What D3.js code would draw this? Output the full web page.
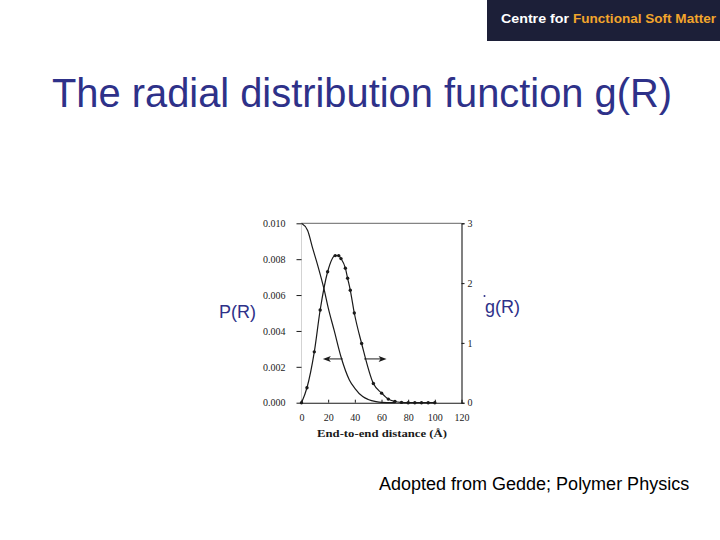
<!DOCTYPE html>
<html><head><meta charset="utf-8">
<script src="https://cdn.jsdelivr.net/npm/d3@7"></script>
<style>body{margin:0;background:#fff}svg{display:block}</style>
</head><body><svg id="c" width="720" height="540"></svg>
<script>
// ---- data ----
const titleText = "The radial distribution function g(R)";
const xTicks = [0, 20, 40, 60, 80, 100, 120];
const leftTicks = [0, 0.002, 0.004, 0.006, 0.008, 0.010];
const rightTicks = [0, 1, 2, 3];
// P(R): end-to-end distance probability (left axis)
const pR   = [0, 4.6, 8.4, 12, 17, 20, 24.6, 29.6, 35.9, 40, 45.9, 50, 55.9, 60, 70];
const pVal = [0.0100, 0.0096, 0.0086, 0.0077, 0.0063, 0.0053, 0.0040, 0.00256, 0.00127, 0.0008, 0.00034, 0.00018, 0.00006, 0.00002, 0];
// g(R): radial distribution (right axis), with data points
const gR   = [0, 4.1, 9.6, 14, 19.6, 25.3, 27.9, 29.6, 32.9, 34.6, 36.6, 39.6, 45.1, 53.9, 60.1, 65.1, 70.1, 75, 80, 85, 90, 95, 100];
const gVal = [0, 0.25, 0.85, 1.55, 2.19, 2.46, 2.46, 2.41, 2.25, 2.08, 1.88, 1.50, 0.99, 0.32, 0.16, 0.06, 0.02, 0.005, 0, 0, 0, 0, 0];
// arrows (data coordinates: R range, left-axis value)
const arrows = [
  {from: 30.9, to: 16.0, v: 0.00244},
  {from: 47.0, to: 63.8, v: 0.00244}
];

const svg = d3.select("#c");
svg.append("rect").attr("width",720).attr("height",540).attr("fill","#fff");

// logo
svg.append("rect").attr("x",487).attr("y",0).attr("width",233).attr("height",41).attr("fill","#1c1f38");
svg.append("text").attr("x",501).attr("y",22.5).attr("font-family","Liberation Sans, Arial, sans-serif")
  .attr("font-weight","bold").attr("font-size",13.5).attr("fill","#ffffff")
  .attr("textLength",68).attr("lengthAdjust","spacingAndGlyphs").text("Centre for");
svg.append("text").attr("x",573).attr("y",22.5).attr("font-family","Liberation Sans, Arial, sans-serif")
  .attr("font-weight","bold").attr("font-size",13.5).attr("fill","#f2a52c")
  .attr("textLength",143).attr("lengthAdjust","spacingAndGlyphs").text("Functional Soft Matter");

// title
svg.append("text").attr("x",52).attr("y",107).attr("font-family","Liberation Sans, Arial, sans-serif")
  .attr("font-size",40).attr("fill","#2e3189").attr("textLength",620).attr("lengthAdjust","spacingAndGlyphs")
  .text(titleText);

// scales
const x = d3.scaleLinear().domain([0,120]).range([301.5,461.5]);
const yL = d3.scaleLinear().domain([0,0.010]).range([402.7,223.3]);
const yR = d3.scaleLinear().domain([0,3]).range([402.7,223.3]);

const serif = "Liberation Serif, Times New Roman, serif";
const ink = "#1a1a1a";

// frame
const g = svg.append("g");
g.append("line").attr("x1",x(0)).attr("x2",x(120)).attr("y1",yL(0.010)).attr("y2",yL(0.010)).attr("stroke","#666").attr("stroke-width",1);
g.append("line").attr("x1",x(0)).attr("x2",x(0)).attr("y1",yL(0.010)).attr("y2",yL(0)).attr("stroke","#c8c8c8").attr("stroke-width",0.8);

// axes
const axL = g.append("g").attr("transform",`translate(${x(0)},0)`)
  .call(d3.axisLeft(yL).tickValues(leftTicks).tickFormat(d3.format(".3f")).tickSize(5).tickPadding(11));
const axB = g.append("g").attr("transform",`translate(0,${yL(0)})`)
  .call(d3.axisBottom(x).tickValues(xTicks).tickFormat(d3.format("d")).tickSize(-3).tickPadding(11));
const axR = g.append("g").attr("transform",`translate(${x(120)},0)`)
  .call(d3.axisRight(yR).tickValues(rightTicks).tickFormat(d3.format("d")).tickSize(3).tickPadding(3));
axL.select(".domain").remove();
[axB, axR].forEach(a => a.select(".domain").attr("stroke",ink).attr("stroke-width",1.1));
[axL, axB, axR].forEach(a => {
  a.selectAll(".tick line").attr("stroke",ink);
  a.selectAll(".tick text").attr("font-family",serif).attr("font-size",10).attr("fill","#222");
});
axB.selectAll(".tick line").filter(d => d===0 || d===120).remove();

// axis title
g.append("text").attr("x",317).attr("y",437).attr("font-family",serif).attr("font-weight","bold")
  .attr("font-size",10.5).attr("fill",ink).attr("textLength",130).attr("lengthAdjust","spacingAndGlyphs")
  .text("End-to-end distance (Å)");

// curves
const pData = pR.map((r,i)=>[r,pVal[i]]);
const gData = gR.map((r,i)=>[r,gVal[i]]);
g.append("path").datum(pData).attr("fill","none").attr("stroke",ink).attr("stroke-width",1.2)
  .attr("d", d3.line().x(d=>x(d[0])).y(d=>yL(d[1])).curve(d3.curveMonotoneX));
g.append("path").datum(gData).attr("fill","none").attr("stroke",ink).attr("stroke-width",1.2)
  .attr("d", d3.line().x(d=>x(d[0])).y(d=>yR(d[1])).curve(d3.curveMonotoneX));
g.selectAll("circle.pt").data(gData).join("circle").attr("class","pt")
  .attr("cx",d=>x(d[0])).attr("cy",d=>yR(d[1])).attr("r",1.7).attr("fill",ink);

// arrows
arrows.forEach(a => {
  const x1 = x(a.from), x2 = x(a.to), yy = yL(a.v);
  const dir = Math.sign(x2 - x1);
  g.append("line").attr("x1",x1).attr("x2",x2 - dir*5).attr("y1",yy).attr("y2",yy).attr("stroke",ink).attr("stroke-width",1);
  g.append("path").attr("d",`M${x2},${yy}L${x2-dir*8},${yy-3}L${x2-dir*6},${yy}L${x2-dir*8},${yy+3}Z`).attr("fill",ink);
});

// side labels
svg.append("text").attr("x",219).attr("y",318).attr("font-family","Liberation Sans, Arial, sans-serif")
  .attr("font-size",18).attr("fill","#2e3189").text("P(R)");
svg.append("text").attr("x",485).attr("y",313).attr("font-family","Liberation Sans, Arial, sans-serif")
  .attr("font-size",18).attr("fill","#2e3189").text("g(R)");
svg.append("circle").attr("cx",484.5).attr("cy",296).attr("r",1).attr("fill","#2e3189");

// caption
svg.append("text").attr("x",379).attr("y",490).attr("font-family","Liberation Sans, Arial, sans-serif")
  .attr("font-size",18).attr("fill","#000").text("Adopted from Gedde; Polymer Physics");
</script></body></html>
